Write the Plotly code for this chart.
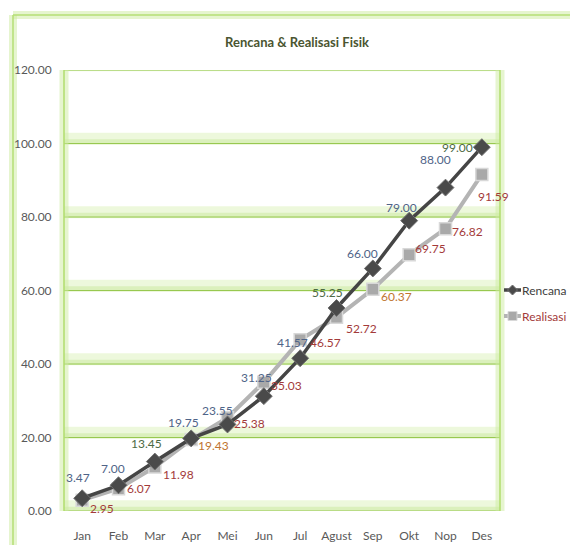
import plotly.graph_objects as go

months = ["Jan", "Feb", "Mar", "Apr", "Mei", "Jun", "Jul", "Agust", "Sep", "Okt", "Nop", "Des"]
rencana = [3.47, 7.00, 13.45, 19.75, 23.55, 31.25, 41.57, 55.25, 66.00, 79.00, 88.00, 99.00]
realisasi = [2.95, 6.07, 11.98, 19.43, 25.38, 35.03, 46.57, 52.72, 60.37, 69.75, 76.82, 91.59]
y_ticks = [0, 20, 40, 60, 80, 100, 120]

# label placement offsets (screen pixels, relative to each point)
ren_dx = [-4, -6, -8, -8, -10, -7, -8, -9, -10, -8, -10, -24]
ren_dy = [-21, -17, -18, -16, -14, -19, -16, -15, -15, -13, -28, 0]
rea_dx = [20, 20, 24, 22, 22, 23, 25, 25, 24, 21, 22, 12]
rea_dy = [8, 0, 8, 6, 6, 3, 3, 11, 7, -6, 3, 22]

FONT = "Lato"
blue_lbl = "#4f6488"
green_lbl = "#4d6a45"
red_lbl = "#a33a3a"
orange_lbl = "#c07430"

ren_colors = [green_lbl if v in (13.45, 55.25, 99.00) else blue_lbl for v in rencana]
rea_colors = [orange_lbl if v in (19.43, 60.37) else red_lbl for v in realisasi]

fig = go.Figure()
fig.add_trace(go.Scatter(
    x=months, y=realisasi, name="Realisasi", mode="lines+markers",
    line=dict(color="#b4b4b4", width=4),
    marker=dict(symbol="square", size=12, color="#a9a9a9", line=dict(color="#d8d8d8", width=1.5)),
    cliponaxis=False,
))
fig.add_trace(go.Scatter(
    x=months, y=rencana, name="Rencana", mode="lines+markers",
    line=dict(color="#454545", width=3.5),
    marker=dict(symbol="diamond", size=13, color="#4a4a4a", line=dict(color="#707070", width=1)),
    cliponaxis=False,
))

annotations = []
for m, v, dx, dy, c in zip(months, rencana, ren_dx, ren_dy, ren_colors):
    annotations.append(dict(x=m, y=v, text=f"{v:.2f}", showarrow=False, xshift=dx, yshift=-dy,
                            font=dict(family=FONT, size=12, color=c)))
for m, v, dx, dy, c in zip(months, realisasi, rea_dx, rea_dy, rea_colors):
    annotations.append(dict(x=m, y=v, text=f"{v:.2f}", showarrow=False, xshift=dx, yshift=-dy,
                            font=dict(family=FONT, size=12, color=c)))

# plot area in pixels: left 64, right 500, top 70, bottom 511
PL, PR, PT, PB = 64, 500, 70, 511
def px(x):
    return (x - PL) / (PR - PL)
def py(y):
    return (PB - y) / (PB - PT)

shapes = []
# glowing green gridlines
for t in y_ticks:
    shapes.append(dict(type="line", xref="paper", yref="y", x0=0, x1=1, y0=t + 1.3, y1=t + 1.3,
                       line=dict(color="rgba(210,238,168,0.4)", width=12), layer="below"))
    shapes.append(dict(type="line", xref="paper", yref="y", x0=0, x1=1, y0=t + 0.5, y1=t + 0.5,
                       line=dict(color="rgba(192,228,140,0.4)", width=5), layer="below"))
    shapes.append(dict(type="line", xref="paper", yref="y", x0=0, x1=1, y0=t, y1=t,
                       line=dict(color="#98c850", width=1.2), layer="below"))
# plot area vertical borders with glow
for xv in (0, 1):
    shapes.append(dict(type="line", xref="paper", yref="paper", x0=xv, x1=xv, y0=0, y1=1,
                       line=dict(color="rgba(205,235,160,0.5)", width=9), layer="below"))
    shapes.append(dict(type="line", xref="paper", yref="paper", x0=xv, x1=xv, y0=0, y1=1,
                       line=dict(color="#b0dc6c", width=1.5), layer="below"))
# outer frame (left and top)
fx, fy = px(13), py(15)
for w, c in [(8, "rgba(205,235,160,0.5)"), (1.5, "#b4de74")]:
    shapes.append(dict(type="line", xref="paper", yref="paper", x0=fx, x1=fx, y0=py(560), y1=fy,
                       line=dict(color=c, width=w), layer="below"))
    shapes.append(dict(type="line", xref="paper", yref="paper", x0=fx, x1=px(590), y0=fy, y1=fy,
                       line=dict(color=c, width=w), layer="below"))

# manual legend (right side, partly cut by the page edge as in the original)
leg_items = [("Rencana", 290, "#454545", 3.5, "diamond", "#4a4a4a", "#404040"),
             ("Realisasi", 316, "#b4b4b4", 4, "square", "#a9a9a9", "#a33a3a")]
for name, ly, lc, lw, sym, mc, tc in leg_items:
    shapes.append(dict(type="line", xref="paper", yref="paper", x0=px(504), x1=px(521),
                       y0=py(ly), y1=py(ly), line=dict(color=lc, width=lw)))
    cx, cy, r = 512.5, ly, 5
    if sym == "diamond":
        path = (f"M {px(cx - r)} {py(cy)} L {px(cx)} {py(cy - r)} L {px(cx + r)} {py(cy)} "
                f"L {px(cx)} {py(cy + r)} Z")
        shapes.append(dict(type="path", xref="paper", yref="paper", path=path,
                           fillcolor=mc, line=dict(color="#707070", width=1)))
    else:
        shapes.append(dict(type="rect", xref="paper", yref="paper",
                           x0=px(cx - 4.5), x1=px(cx + 4.5), y0=py(cy + 4.5), y1=py(cy - 4.5),
                           fillcolor=mc, line=dict(color="#d8d8d8", width=1)))
    annotations.append(dict(xref="paper", yref="paper", x=px(520), y=py(ly), xanchor="left",
                            yanchor="middle", text=name, showarrow=False,
                            font=dict(family=FONT, size=12, color=tc)))

fig.update_layout(
    width=570, height=545,
    margin=dict(l=PL, r=570 - PR, t=PT, b=545 - PB),
    paper_bgcolor="white", plot_bgcolor="white",
    title=dict(text="<b>Rencana & Realisasi Fisik</b>", x=297 / 570, xanchor="center",
               y=1 - 42 / 545, yanchor="middle",
               font=dict(family=FONT, size=13, color="#4a5530")),
    font=dict(family=FONT, size=12, color="#595959"),
    xaxis=dict(type="category", range=[-0.5, 11.5], showgrid=False, zeroline=False, showline=False,
               ticks="outside", ticklen=14, tickcolor="rgba(0,0,0,0)", automargin=False,
               tickfont=dict(family=FONT, size=12, color="#595959"), fixedrange=True),
    yaxis=dict(range=[0, 120], tickvals=y_ticks, ticktext=[f"{v:.2f}" for v in y_ticks],
               showgrid=False, zeroline=False, showline=False, automargin=False,
               ticks="outside", ticklen=9, tickcolor="rgba(0,0,0,0)",
               tickfont=dict(family=FONT, size=12, color="#595959"), fixedrange=True),
    showlegend=False,
    shapes=shapes,
    annotations=annotations,
)

fig.write_html("out.html")
